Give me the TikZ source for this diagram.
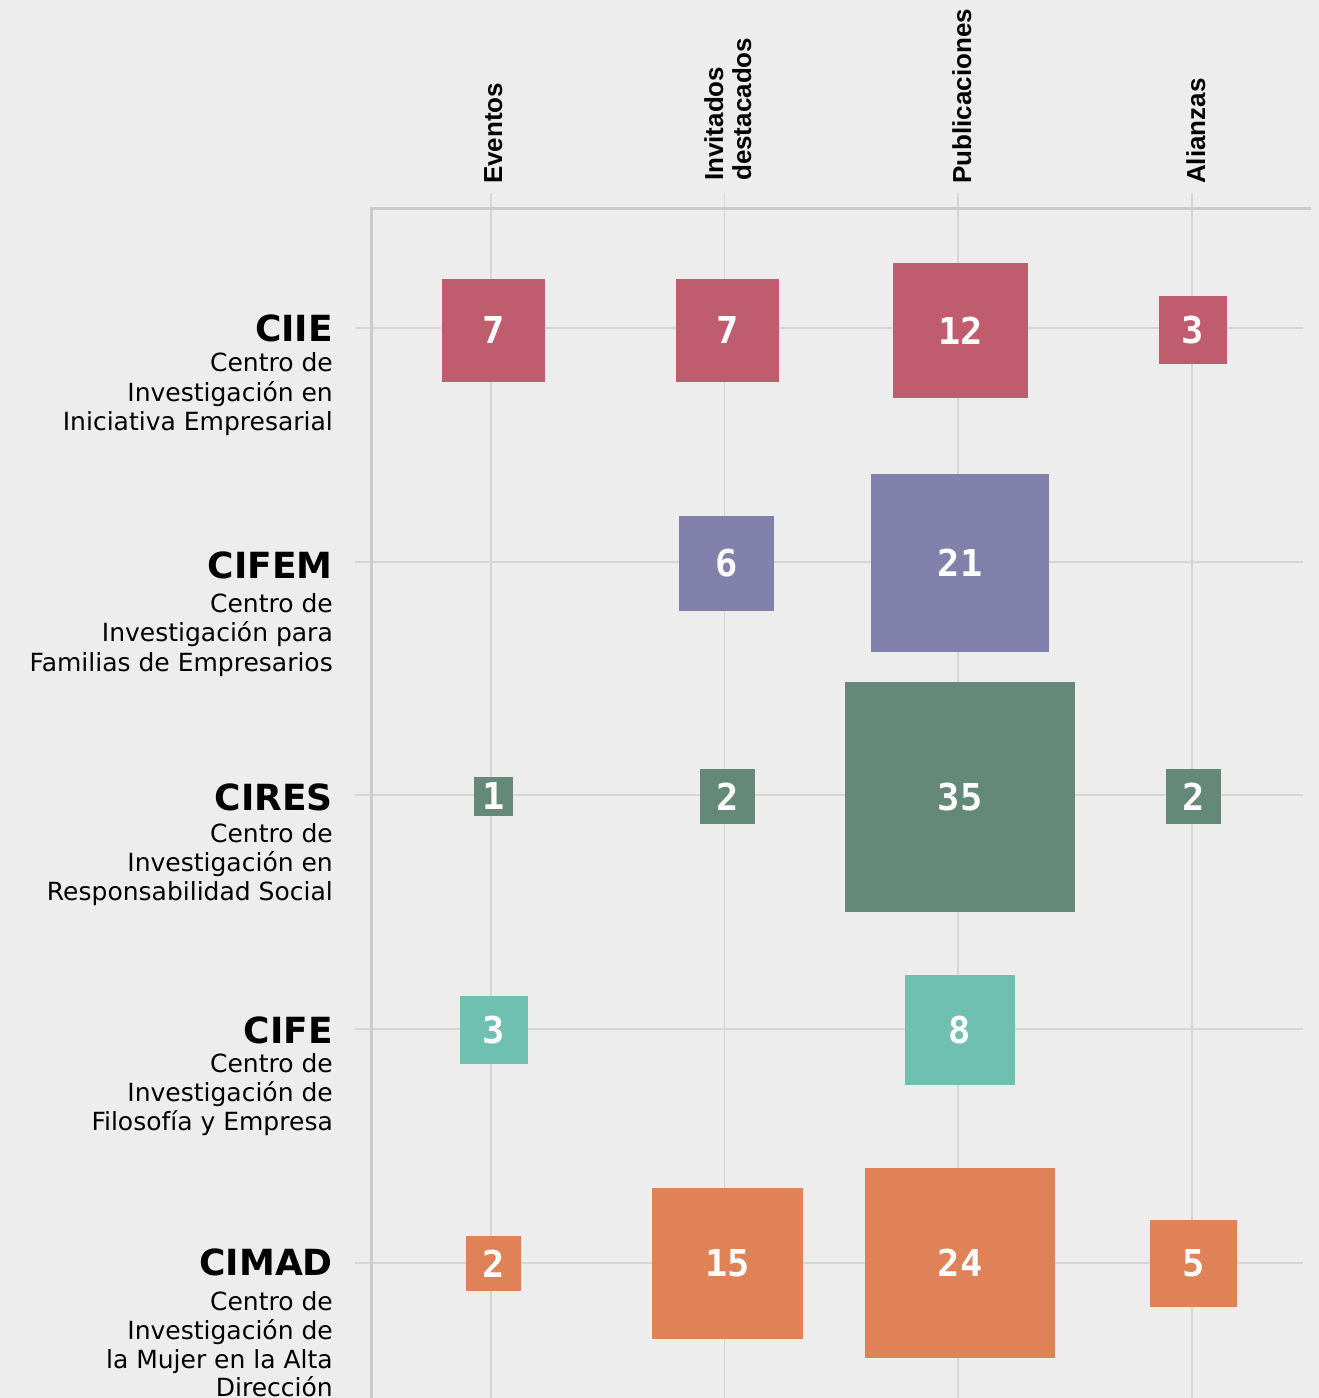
\documentclass[tikz,border=0pt]{standalone}
\usepackage{fontspec}
\setmainfont{DejaVu Sans}
\newfontfamily\hdrfont{Liberation Sans}
\newfontfamily\numfont{DejaVu Sans Mono}
\definecolor{bgc}{HTML}{EDEDED}
\definecolor{gridc}{HTML}{D6D6D6}
\definecolor{axisc}{HTML}{CBCBCB}
\definecolor{ciie}{HTML}{BF5D6E}
\definecolor{cifem}{HTML}{8181AC}
\definecolor{cires}{HTML}{648979}
\definecolor{cife}{HTML}{70C0B1}
\definecolor{cimad}{HTML}{E08257}
\tikzset{
  gridline/.style={draw=gridc, line width=1.3pt},
  axisline/.style={draw=axisc, line width=2.6pt},
  cell/.style={fill=#1, inner sep=0pt, text=white,
    font=\numfont\bfseries\fontsize{37}{37}\selectfont},
  ttl/.style={anchor=base east, inner sep=0pt, text=black,
    font=\bfseries\fontsize{36}{40}\selectfont},
  sub/.style={anchor=base east, inner sep=0pt, text=black,
    font=\fontsize{25}{30}\selectfont},
  hdr/.style={rotate=90, anchor=base west, inner sep=0pt, text=black,
    font=\hdrfont\bfseries\fontsize{26}{28}\selectfont}
}
\begin{document}
\begin{tikzpicture}[x=1pt,y=-1pt]
\useasboundingbox[fill=bgc] (0,0) rectangle (1319,1398);
% grid lines
\foreach \cx in {491,724.5,958,1192}{
  \draw[gridline] (\cx,193) -- (\cx,1398);
}
\foreach \ry in {328,562,795,1029,1263}{
  \draw[gridline] (355,\ry) -- (1303,\ry);
}
% axes
\draw[axisline] (370,208.5) -- (1311,208.5);
\draw[axisline] (371.5,207.5) -- (371.5,1398);
% headers
\node[hdr] (hEv) at (502,184) {Eventos};
\node[hdr] (hIn1) at (723,181) {Invitados};
\node[hdr] (hIn2) at (751,181) {destacados};
\node[hdr] (hPu) at (971,184) {Publicaciones};
\node[hdr] (hAl) at (1205,184) {Alianzas};
% row labels
\node[ttl] (tA) at (333,341.5) {CIIE};
\node[sub] (sA1) at (333,371.5) {Centro de};
\node[sub] (sA2) at (333,401) {Investigación en};
\node[sub] (sA3) at (333,430.5) {Iniciativa Empresarial};
\node[ttl] (tB) at (333,578) {CIFEM};
\node[sub] (sB1) at (333,612) {Centro de};
\node[sub] (sB2) at (333,641.5) {Investigación para};
\node[sub] (sB3) at (333,671) {Familias de Empresarios};
\node[ttl] (tC) at (333,810) {CIRES};
\node[sub] (sC1) at (333,842) {Centro de};
\node[sub] (sC2) at (333,871) {Investigación en};
\node[sub] (sC3) at (333,900.5) {Responsabilidad Social};
\node[ttl] (tD) at (333,1043) {CIFE};
\node[sub] (sD1) at (333,1072) {Centro de};
\node[sub] (sD2) at (333,1101.5) {Investigación de};
\node[sub] (sD3) at (333,1130) {Filosofía y Empresa};
\node[ttl] (tE) at (333,1275) {CIMAD};
\node[sub] (sE1) at (333,1310) {Centro de};
\node[sub] (sE2) at (333,1339) {Investigación de};
\node[sub] (sE3) at (333,1368) {la Mujer en la Alta};
\node[sub] (sE4) at (333,1396) {Dirección};
% cells
\node[cell=ciie, minimum size=103] (aE) at (493.5,330) {7};
\node[cell=ciie, minimum size=103] (aI) at (727.5,330) {7};
\node[cell=ciie, minimum size=135] (aP) at (960.5,330.5) {12};
\node[cell=ciie, minimum size=68] (aA) at (1193,330) {3};
\node[cell=cifem, minimum size=95] (bI) at (726.5,563.5) {6};
\node[cell=cifem, minimum size=178] (bP) at (960,563) {21};
\node[cell=cires, minimum size=39] (cE) at (493.5,796.5) {1};
\node[cell=cires, minimum size=55] (cI) at (727.5,796.5) {2};
\node[cell=cires, minimum size=230] (cP) at (960,797) {35};
\node[cell=cires, minimum size=55] (cA) at (1193.5,796.5) {2};
\node[cell=cife, minimum size=68] (dE) at (494,1030) {3};
\node[cell=cife, minimum size=110] (dP) at (960,1030) {8};
\node[cell=cimad, minimum size=55] (eE) at (493.5,1263.5) {2};
\node[cell=cimad, minimum size=151] (eI) at (727.5,1263.5) {15};
\node[cell=cimad, minimum size=190] (eP) at (960,1263) {24};
\node[cell=cimad, minimum size=87] (eA) at (1193.5,1263.5) {5};
\end{tikzpicture}
\end{document}
